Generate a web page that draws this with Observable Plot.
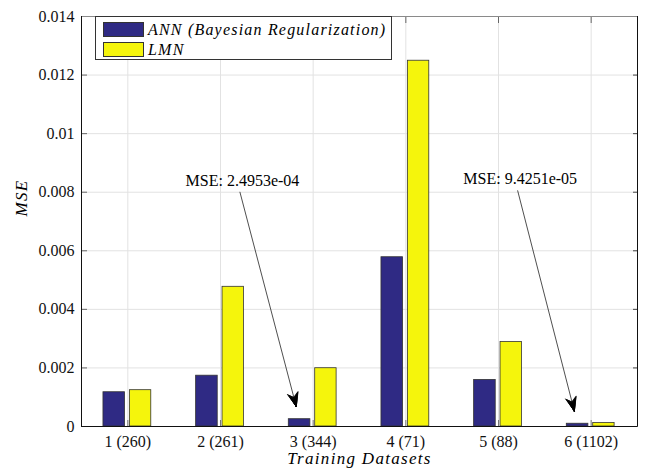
<!DOCTYPE html>
<html>
<head>
<meta charset="utf-8">
<script src="https://cdn.jsdelivr.net/npm/d3@7"></script>
<script src="https://cdn.jsdelivr.net/npm/@observablehq/plot@0.6"></script>
<style>
  body { margin: 0; background: #fff; }
  #chart { position: relative; width: 645px; height: 470px; }
  #chart svg { position: absolute; left: 0; top: 0; }
  #chart svg text { font-family: "Liberation Serif", serif; }
  /* math-style italic titles are set a little looser */
  #chart g[font-style="italic"] { letter-spacing: 1.3px; }
  .legend {
    position: absolute; left: 95px; top: 16px; width: 297px; height: 44px;
    box-sizing: border-box; border: 1px solid #333; background: #fff;
    font-family: "Liberation Serif", serif; font-style: italic; font-size: 16px;
    letter-spacing: 1.2px; color: #000;
  }
  .legend .row { position: absolute; left: 7px; height: 15px; display: flex; align-items: center; white-space: nowrap; }
  .legend .sw { width: 41px; height: 15px; box-sizing: border-box; border: 1px solid #333; margin-right: 4px; }
</style>
</head>
<body>
<div id="chart"></div>
<script>
// Training datasets (sample counts in parentheses)
const datasets = ["1 (260)", "2 (261)", "3 (344)", "4 (71)", "5 (88)", "6 (1102)"];
const xTicks = [1, 2, 3, 4, 5, 6];

// Mean squared error per dataset
const annMSE = [0.00117, 0.001735, 0.00024953, 0.00578, 0.00159, 0.000094251];
const lmnMSE = [0.00124, 0.00477, 0.00199, 0.01249, 0.002885, 0.00012];

const seriesNames = ["ANN (Bayesian Regularization)", "LMN"];
const seriesColors = ["#2f2a84", "#f5f50c"];

const yTicks = [0, 0.002, 0.004, 0.006, 0.008, 0.01, 0.012, 0.014];

// Call-outs for the two smallest ANN errors
const noteLabels = ["MSE: 2.4953e-04", "MSE: 9.4251e-05"];
const noteDataset = [3, 6];
const noteAnchorX = [2.21, 5.207];
const noteAnchorY = [0.0080, 0.00805];

// Horizontal extent of each series' bar within its group (in category units)
const slots = [[-0.263, -0.030], [0.022, 0.253]];
const annCenter = (slots[0][0] + slots[0][1]) / 2;

const rows = datasets.flatMap((d, i) => [
  {series: seriesNames[0], s: 0, idx: xTicks[i], value: annMSE[i]},
  {series: seriesNames[1], s: 1, idx: xTicks[i], value: lmnMSE[i]}
]);

const notes = noteLabels.map((label, i) => {
  const x2 = noteDataset[i] + annCenter;
  const y2 = annMSE[noteDataset[i] - 1];
  const x1 = noteAnchorX[i];
  const y1 = noteAnchorY[i];
  // start of the segment that carries the arrowhead (same direction, last part of the line)
  return {label, x1, y1, x2, y2, hx: x2 + 0.4 * (x1 - x2), hy: y2 + 0.4 * (y1 - y2)};
});

const xDomain = [0.5, 6.5];
const yDomain = [yTicks[0], yTicks[yTicks.length - 1]];

const serif = "Liberation Serif";

// Swept-back arrowhead filled by a fan of thin wings; their own shafts are trimmed away
const headHalfWidth = 5.5, headNotch = 9.5, headDepth = 14;
const fanSteps = 16;
const headFan = d3.range(fanSteps + 1).map(k => {
  const t = k / fanSteps;
  const px = headHalfWidth * t, py = headNotch + (headDepth - headNotch) * t;
  return [Math.max(0.2, 2 * Math.atan2(px, py) * 180 / Math.PI), Math.hypot(px, py)];
});
const fanWidth = 0.7;

const plot = Plot.plot({
  width: 645,
  height: 470,
  marginLeft: 81,
  marginRight: 8,
  marginTop: 16,
  marginBottom: 44,
  x: {domain: xDomain},
  y: {domain: yDomain},
  color: {domain: seriesNames, range: seriesColors},
  style: {fontFamily: serif, fontSize: "16px", color: "#000", background: "#fff"},
  marks: [
    Plot.gridY({ticks: yTicks, stroke: "#e2e2e2", strokeOpacity: 1}),
    Plot.gridX({ticks: xTicks, stroke: "#e2e2e2", strokeOpacity: 1}),
    Plot.rectY(rows, {
      x1: d => d.idx + slots[d.s][0],
      x2: d => d.idx + slots[d.s][1],
      y1: 0,
      y2: "value",
      fill: "series",
      stroke: "#333",
      strokeWidth: 0.8
    }),
    // inward tick marks on all four sides
    Plot.axisY({ticks: yTicks, tickSize: -6, fill: "none", stroke: "#666", label: null}),
    Plot.axisY({anchor: "right", ticks: yTicks, tickSize: -5, fill: "none", stroke: "#444", label: null}),
    Plot.axisX({ticks: xTicks, tickSize: -6, fill: "none", stroke: "#777", label: null}),
    Plot.axisX({anchor: "top", ticks: xTicks, tickSize: -6, fill: "none", stroke: "#666", label: null}),
    // tick labels
    Plot.axisY({ticks: yTicks, tickSize: 0, tickPadding: 7, tickFormat: d => `${d}`, label: null, fill: "#111",
      fontFamily: serif, fontSize: 16, fontVariant: "normal"}),
    Plot.axisX({ticks: xTicks, tickSize: 0, tickPadding: 9, tickFormat: i => datasets[i - 1], label: null, fill: "#111",
      fontFamily: serif, fontSize: 16, fontVariant: "normal"}),
    // axes box
    Plot.ruleY([yDomain[1]], {stroke: "#8a8a8a"}),
    Plot.ruleY([yDomain[0]], {stroke: "#111"}),
    Plot.ruleX(xDomain, {stroke: "#111"}),
    // call-out arrows and labels
    Plot.arrow(notes, {x1: "x1", y1: "y1", x2: "x2", y2: "y2", insetEnd: 13, headLength: 0, stroke: "#222", strokeWidth: 0.8}),
    ...headFan.map(([a, l]) => Plot.arrow(notes, {
      x1: "hx", y1: "hy", x2: "x2", y2: "y2", insetStart: 76, insetEnd: 13, stroke: "#000",
      headAngle: a, headLength: l * 1.5 / fanWidth, strokeWidth: fanWidth
    })),
    Plot.text(notes, {x: "x1", y: "y1", text: "label", dx: 2.5, dy: -11.5, fill: "#000", fontFamily: serif, fontSize: 16}),
    // axis titles
    Plot.text(["Training Datasets"], {frameAnchor: "bottom", lineAnchor: "bottom", dy: 37, fontFamily: serif,
      fontStyle: "italic", fontSize: 17, fill: "#000"}),
    Plot.text(["MSE"], {frameAnchor: "left", rotate: -90, dx: -60, dy: -5, fontFamily: serif,
      fontStyle: "italic", fontSize: 17, fill: "#000"})
  ]
});

const chart = document.getElementById("chart");
chart.appendChild(plot);

// Legend box drawn inside the plot area, upper left
const legend = document.createElement("div");
legend.className = "legend";
seriesNames.forEach((name, i) => {
  const row = document.createElement("div");
  row.className = "row";
  row.style.top = (i === 0 ? 5 : 25) + "px";
  const sw = document.createElement("span");
  sw.className = "sw";
  sw.style.background = seriesColors[i];
  const label = document.createElement("span");
  label.textContent = name;
  row.appendChild(sw);
  row.appendChild(label);
  legend.appendChild(row);
});
chart.appendChild(legend);
</script>
</body>
</html>
